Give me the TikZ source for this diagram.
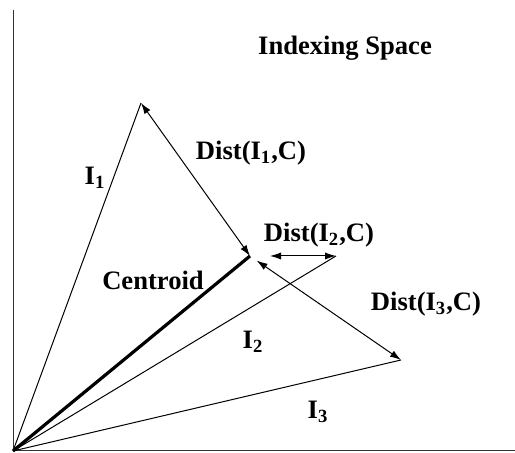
\documentclass[tikz,border=0pt]{standalone}
\usepackage{fontspec}
\setmainfont{Liberation Serif}
\usetikzlibrary{arrows.meta, positioning}

\begin{document}
\begin{tikzpicture}[
    x=0.5pt, y=0.5pt,
    axis/.style={draw=black!80, line width=0.5pt},
    vec/.style={draw, line width=0.5pt},
    centroidvec/.style={draw, line width=1.6pt},
    dist/.style={draw, line width=0.5pt, {Latex[length=5.5pt,width=3.6pt]}-{Latex[length=5.5pt,width=3.6pt]}},
    lbl/.style={font=\fontsize{13.3}{16}\selectfont\bfseries, inner sep=0pt}
]
\useasboundingbox (0,0) rectangle (515,453);

% points of the indexing space
\coordinate (O) at (13,2);
\coordinate (ytop) at (13,443);
\coordinate (xend) at (515,2);
\coordinate (I1) at (141,350);
\coordinate (C) at (250,197);
\coordinate (I2) at (336,197);
\coordinate (I3) at (401,93);

% axes
\draw[axis] (ytop) -- (O) -- (xend);

% item vectors and centroid
\draw[vec] (O) -- (I1);
\draw[vec] (O) -- (I2);
\draw[vec] (O) -- (I3);
\draw[centroidvec] (O) -- (C);

% distances to the centroid
\draw[dist] (I1) -- (C);
\draw[dist, shorten <=10] (C) -- (I2);
\draw[dist, shorten <=4] (C) -- (I3);

% labels
\node[lbl] (title) at (345,405) {Indexing Space};
\node[lbl] (lI1) at (95,275) {I\textsubscript{1}};
\node[lbl] (lD1) at (251,300) {Dist(I\textsubscript{1},C)};
\node[lbl] (lD2) at (319,218) {Dist(I\textsubscript{2},C)};
\node[lbl] (lC) at (153,173) {Centroid};
\node[lbl] (lD3) at (426,149) {Dist(I\textsubscript{3},C)};
\node[lbl] (lI2) at (253,111) {I\textsubscript{2}};
\node[lbl] (lI3) at (318,41) {I\textsubscript{3}};

\end{tikzpicture}
\end{document}
